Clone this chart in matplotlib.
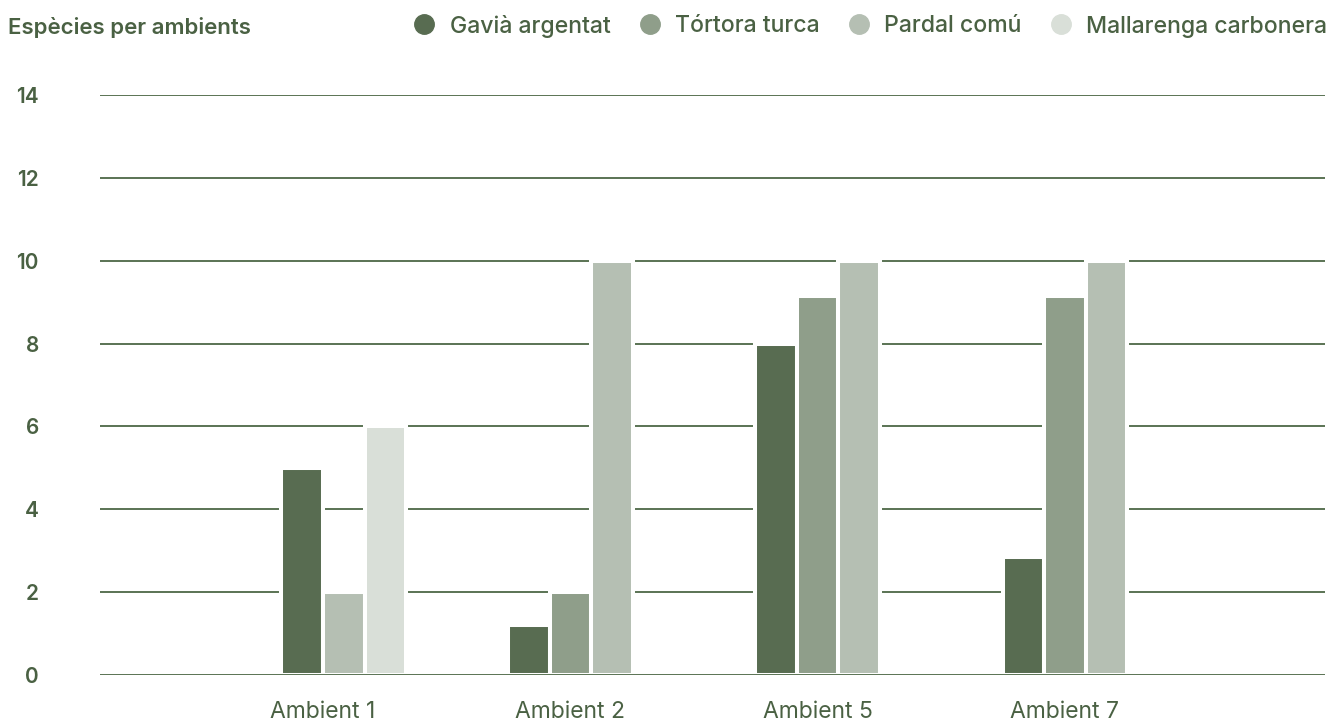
import numpy as np
import matplotlib.pyplot as plt
from matplotlib.lines import Line2D

# Dades
ambients = ["Ambient 1", "Ambient 2", "Ambient 5", "Ambient 7"]
especies = ["Gavià argentat", "Tórtora turca", "Pardal comú", "Mallarenga carbonera"]
gavia = [5, 1.2, 8, 2.85]
tortora = [np.nan, 2, 9.15, 9.15]
pardal = [2, 10, 10, 10]
mallarenga = [6, np.nan, np.nan, np.nan]
y_ticks = [0, 2, 4, 6, 8, 10, 12, 14]

colors = ["#586c51", "#8f9e8a", "#b5bfb3", "#d9dfd8"]
txt = "#4a6143"
grid_c = "#46623f"

plt.rcParams['font.family'] = ['Inter', 'DejaVu Sans']

fig = plt.figure(figsize=(13.33, 7.24), dpi=100)
ax = fig.add_axes([100/1333, 1-675/724, 1225/1333, 580/724])

series = [gavia, tortora, pardal, mallarenga]
# ordre de les columnes a cada ambient (None = espai buit)
slots = [[None, 0, 2, 3], [0, 1, 2], [0, 1, 2], [0, 1, 2]]
step = 0.168

for i, order in enumerate(slots):
    n = len(order)
    for k, s in enumerate(order):
        if s is None:
            continue
        v = series[s][i]
        if np.isnan(v):
            continue
        xpos = i + (k - (n - 1) / 2) * step
        ax.bar(xpos, v, width=step, color=colors[s], edgecolor="white",
               linewidth=2.9, zorder=2)

for y in y_ticks:
    ax.axhline(y, color=grid_c, lw=1.25, zorder=3 if y == 0 else 1)

ax.set_xlim(-0.902, 4.052)
ax.set_ylim(0, 14)
ax.set_xticks(range(len(ambients)))
ax.set_xticklabels(ambients, fontsize=16.5, color=txt, fontweight="normal")
ax.set_yticks(y_ticks)
ax.set_yticklabels([str(t) for t in y_ticks], fontsize=15, color=txt,
                   fontweight="semibold")
ax.tick_params(axis="x", length=0, pad=19)
ax.tick_params(axis="y", length=0, pad=44)
for sp in ax.spines.values():
    sp.set_visible(False)

fig.text(8/1333, 1-27/724, "Espècies per ambients", fontsize=16, color=txt,
         fontweight="semibold", va="center", ha="left")

handles = [Line2D([], [], marker="o", ls="", markersize=14, color=c) for c in colors]
fig.legend(handles, especies, loc="center right", bbox_to_anchor=(1327/1333, 1-26/724),
           ncol=4, frameon=False, labelcolor=txt, handletextpad=0.3,
           columnspacing=0.9, borderpad=0, borderaxespad=0, handlelength=1.6,
           prop={"weight": "medium", "size": 16.6})

fig.savefig("out.png", dpi=100)
